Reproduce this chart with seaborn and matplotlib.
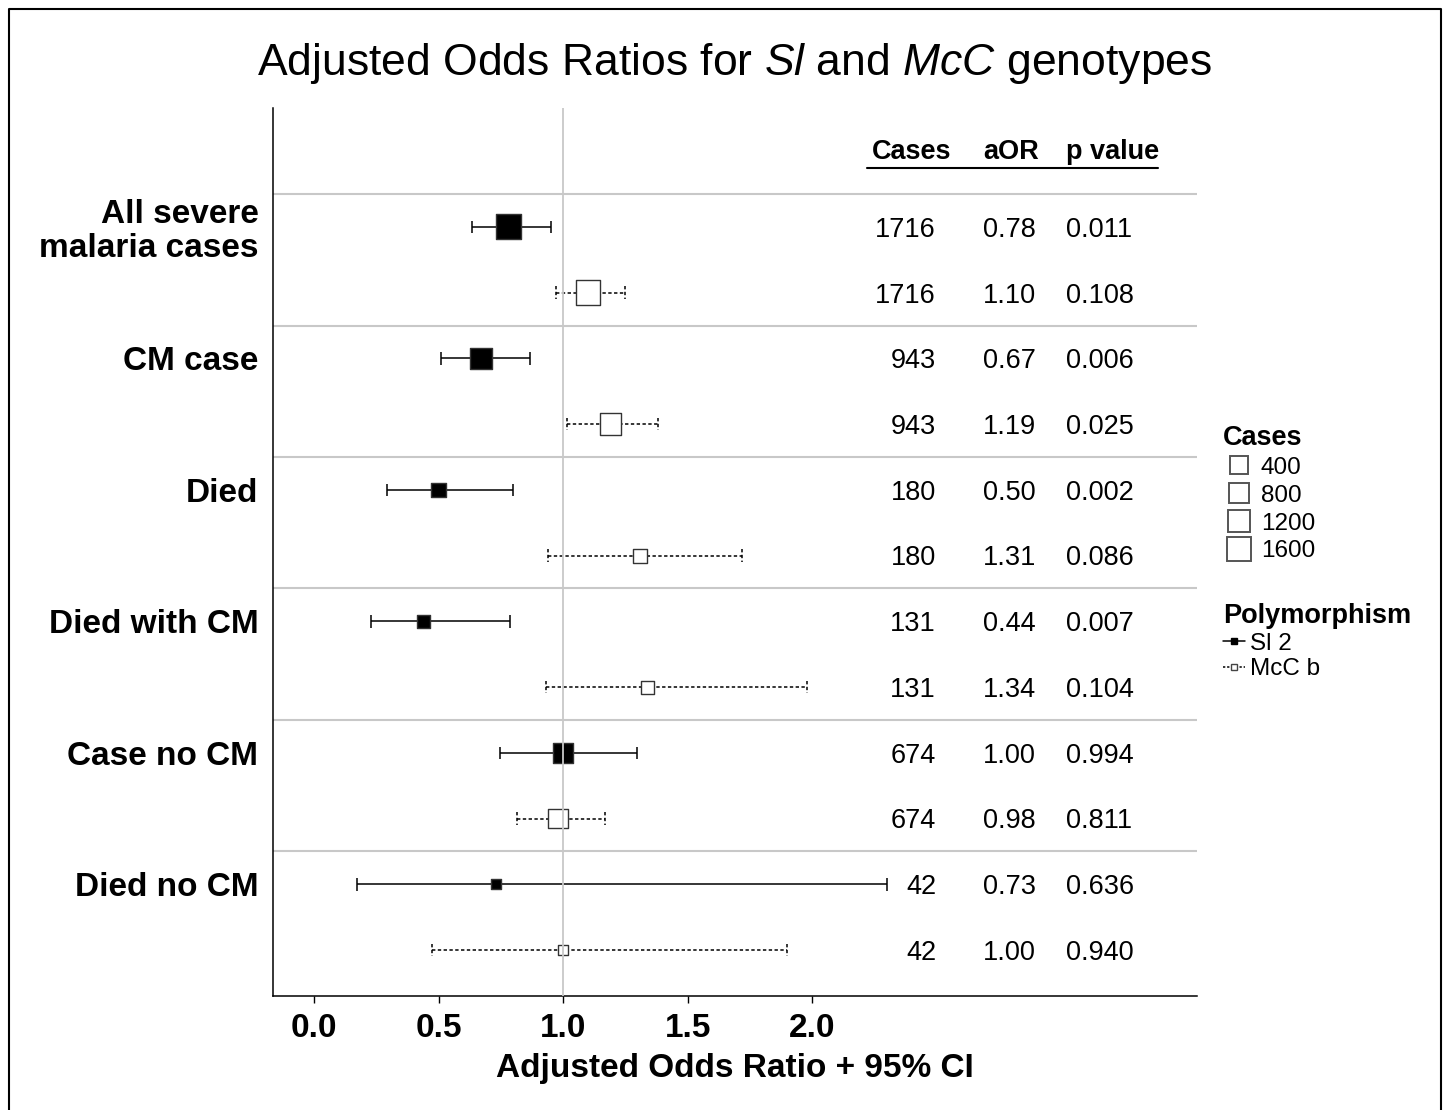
import numpy as np
import pandas as pd
import matplotlib
matplotlib.use('Agg')
import matplotlib.pyplot as plt
from matplotlib.lines import Line2D
import seaborn as sns

# Datos del forest plot
grupos = ['All severe\nmalaria cases', 'CM case', 'Died', 'Died with CM', 'Case no CM', 'Died no CM']
polimorfismos = ['Sl 2', 'McC b']
casos = [1716, 1716, 943, 943, 180, 180, 131, 131, 674, 674, 42, 42]
aor = [0.78, 1.10, 0.67, 1.19, 0.50, 1.31, 0.44, 1.34, 1.00, 0.98, 0.73, 1.00]
ci_low = [0.635, 0.972, 0.51, 1.016, 0.293, 0.94, 0.229, 0.932, 0.747, 0.815, 0.173, 0.474]
ci_high = [0.952, 1.249, 0.867, 1.382, 0.799, 1.719, 0.787, 1.98, 1.297, 1.169, 2.30, 1.90]
aor_txt = ['0.78', '1.10', '0.67', '1.19', '0.50', '1.31', '0.44', '1.34', '1.00', '0.98', '0.73', '1.00']
p_txt = ['0.011', '0.108', '0.006', '0.025', '0.002', '0.086', '0.007', '0.104', '0.994', '0.811', '0.636', '0.940']
leyenda_casos = [400, 800, 1200, 1600]

df = pd.DataFrame({
    'fila': np.arange(len(casos)),
    'poly': polimorfismos * len(grupos),
    'casos': casos,
    'aor': aor,
    'lo': ci_low,
    'hi': ci_high,
})

sns.set_style('white')
plt.rcParams['font.family'] = ['Liberation Sans', 'DejaVu Sans']
plt.rcParams['mathtext.fontset'] = 'custom'
plt.rcParams['mathtext.it'] = 'Liberation Sans:italic'
plt.rcParams['mathtext.rm'] = 'Liberation Sans'
plt.rcParams['text.color'] = 'black'
plt.rcParams['axes.labelcolor'] = 'black'
plt.rcParams['xtick.color'] = 'black'
plt.rcParams['ytick.color'] = 'black'


def lado(c):
    # lado del cuadrado en puntos
    return 2.79 * c ** 0.25


fig = plt.figure(figsize=(14.44, 11.10), dpi=100)
ax = fig.add_axes([273 / 1444, 1 - 996 / 1110, (1197 - 273) / 1444, (996 - 108) / 1110])

gris = '#c8c8c8'
# lineas separadoras
for yy in np.arange(len(grupos)) * 2 - 0.5:
    ax.axhline(yy, color=gris, lw=1.5, zorder=1)

# intervalos de confianza
for poly, ls in [('Sl 2', '-'), ('McC b', (0, (2.2, 1.6)))]:
    d = df[df['poly'] == poly]
    ax.hlines(d['fila'], d['lo'], d['hi'], colors='black', linestyles=[ls], lw=1.1, zorder=2)
    ax.vlines(d['lo'], d['fila'] - 0.095, d['fila'] + 0.095, colors='black', linestyles=[ls], lw=1.1, zorder=2)
    ax.vlines(d['hi'], d['fila'] - 0.095, d['fila'] + 0.095, colors='black', linestyles=[ls], lw=1.1, zorder=2)

sns.scatterplot(data=df, x='aor', y='fila', hue='poly', palette={'Sl 2': 'black', 'McC b': 'white'},
                size='casos', sizes={c: lado(c) ** 2 for c in set(casos)}, marker='s',
                edgecolor='#333333', linewidth=1.0, legend=False, ax=ax, zorder=3)

# linea de referencia en 1
ax.axvline(1.0, color=gris, lw=1.3, zorder=4)

# tabla de la derecha
for i in range(len(casos)):
    ax.text(2.498, i + 0.15, str(casos[i]), ha='right', va='baseline', fontsize=19.5)
    ax.text(2.687, i + 0.15, aor_txt[i], ha='left', va='baseline', fontsize=19.5)
    ax.text(3.020, i + 0.15, p_txt[i], ha='left', va='baseline', fontsize=19.5)
ax.text(2.241, -1.03, 'Cases', ha='left', va='baseline', fontsize=19.5, fontweight='bold')
ax.text(2.687, -1.03, 'aOR', ha='left', va='baseline', fontsize=19.5, fontweight='bold')
ax.text(3.020, -1.03, 'p value', ha='left', va='baseline', fontsize=19.5, fontweight='bold')
ax.plot([2.221, 3.39], [-0.9, -0.9], color='black', lw=1.5)

ax.set_xlim(-0.165, 3.546)
ax.set_ylim(11.7, -1.81)
ax.set_xticks([0, 0.5, 1.0, 1.5, 2.0])
ax.set_xticklabels(['0.0', '0.5', '1.0', '1.5', '2.0'], fontsize=24, fontweight='bold')
ax.set_yticks(np.arange(len(grupos)) * 2)
ax.set_yticklabels(grupos, fontsize=24, fontweight='bold', linespacing=1.1)
ax.tick_params(axis='y', length=0, pad=10.5)
ax.tick_params(axis='x', length=5, width=1, color='black', pad=7, bottom=True)
ax.set_xlabel('Adjusted Odds Ratio + 95% CI', fontsize=24, fontweight='bold', labelpad=7)
ax.set_ylabel('')
sns.despine(ax=ax)
for s in ['left', 'bottom']:
    ax.spines[s].set_color('black')
    ax.spines[s].set_linewidth(1.1)

fig.text((273 + 1197) / 2 / 1444, 1 - 64 / 1110, r'Adjusted Odds Ratios for $\it{Sl}$ and $\it{McC}$ genotypes',
         ha='center', va='center', fontsize=32)

# leyendas
h_casos = [Line2D([], [], marker='s', ls='', ms=lado(c), mfc='white', mec='#555555', mew=1.4) for c in leyenda_casos]
leg1 = fig.legend(h_casos, [str(c) for c in leyenda_casos], loc='upper left',
                  bbox_to_anchor=(1223 / 1444, 1 - 425 / 1110), frameon=False, fontsize=17.5,
                  title='Cases', title_fontproperties={'weight': 'bold', 'size': 19.5},
                  alignment='left', borderpad=0, borderaxespad=0, handlelength=1.3,
                  handletextpad=0.25, labelspacing=0.24)
h_poly = [Line2D([], [], color='black', lw=1.1, marker='s', ms=4, mfc='black', mec='black'),
          Line2D([], [], color='black', lw=1.1, ls=(0, (1.5, 1.2)), marker='s', ms=4, mfc='white', mec='#444444')]
leg2 = fig.legend(h_poly, polimorfismos, loc='upper left',
                  bbox_to_anchor=(1223 / 1444, 1 - 603 / 1110), frameon=False, fontsize=17.5,
                  title='Polymorphism', title_fontproperties={'weight': 'bold', 'size': 19.5},
                  alignment='left', borderpad=0, borderaxespad=0, handlelength=0.9,
                  handletextpad=0.2, labelspacing=0.15)

# marco exterior
fig.add_artist(Line2D([9 / 1444, 9 / 1444, 1441 / 1444, 1441 / 1444], [0, 1 - 9 / 1110, 1 - 9 / 1110, 0],
                      transform=fig.transFigure, color='black', lw=1.5))

plt.savefig('out.png', dpi=100)
